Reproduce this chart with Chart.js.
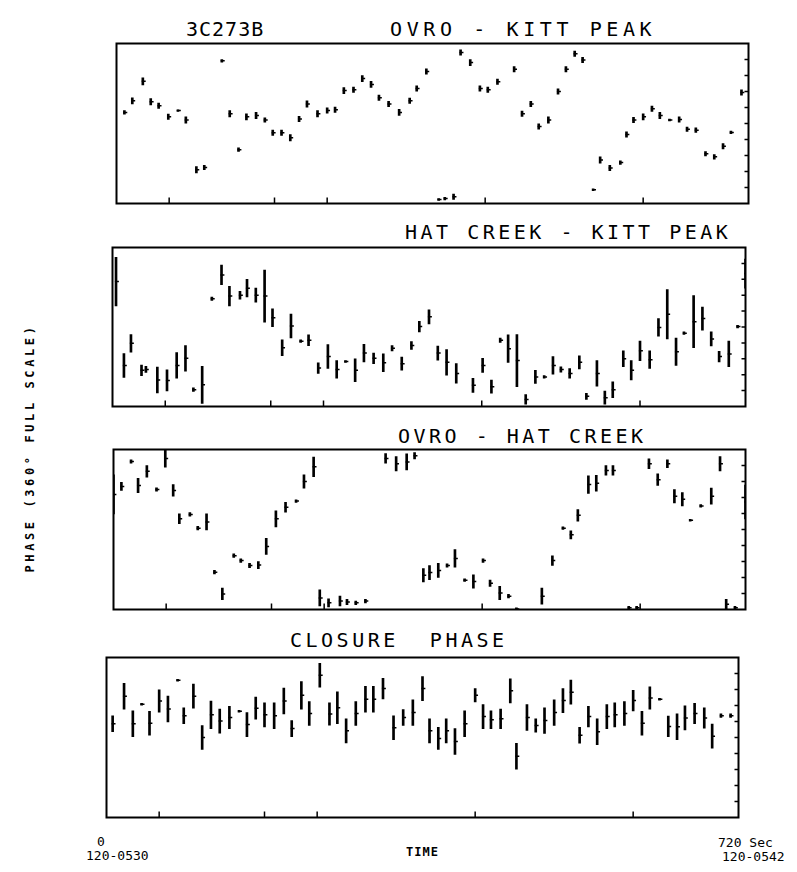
<!DOCTYPE html>
<html>
<head>
<meta charset="utf-8">
<script src="https://cdn.jsdelivr.net/npm/chart.js@4"></script>
<style>
  body { margin: 0; background: #fff; width: 797px; height: 872px; position: relative; overflow: hidden; }
  canvas { position: absolute; }
  .lbl { position: absolute; font-family: "DejaVu Sans Mono", monospace; color: #000; white-space: pre; line-height: 1; }
  .ttl { font-size: 20px; letter-spacing: 3.5px; }
  .small { font-size: 13px; }
  .bold { font-weight: bold; font-size: 12px; }
</style>
</head>
<body>
<div class="lbl ttl" style="left:186px;top:19px;letter-spacing:1px;">3C273B</div>
<div class="lbl ttl" style="left:390px;top:19px;letter-spacing:4.6px;">OVRO - KITT PEAK</div>
<div class="lbl ttl" style="left:405px;top:222px;">HAT CREEK - KITT PEAK</div>
<div class="lbl ttl" style="left:398px;top:426px;">OVRO - HAT CREEK</div>
<div class="lbl ttl" style="left:290px;top:630px;">CLOSURE  PHASE</div>
<div class="lbl bold" style="left:30px;top:448px;transform:translate(-50%,-50%) rotate(-90deg);letter-spacing:3.6px;">PHASE (360° FULL SCALE)</div>
<div class="lbl bold" style="left:406px;top:846px;letter-spacing:1px;">TIME</div>
<div class="lbl small" style="left:97px;top:835px;">0</div>
<div class="lbl small" style="left:86px;top:849px;">120-0530</div>
<div class="lbl small" style="left:718px;top:836px;">720 Sec</div>
<div class="lbl small" style="left:722px;top:850px;">120-0542</div>

<canvas id="c1" width="643" height="171"></canvas>
<canvas id="c2" width="644" height="170"></canvas>
<canvas id="c3" width="643" height="171"></canvas>
<canvas id="c4" width="643" height="171"></canvas>

<script>
// time in seconds from 120-0530, phase in degrees (0-360 full scale), err = half bar length
const t1 = [9,18,30,39,48,59,70,79,91,100,120,129,139,148,159,169,178,188,198,208,217,229,240,249,259,270,280,290,299,310,322,334,342,353,367,374,384,392,403,414,423,434,453,462,472,481,492,503,512,522,531,543,551,562,574,581,589,600,610,619,630,641,650,660,671,681,691,700,712];
const p1 = [205,231,275,229,220,195,209,188,76,81,321,202,121,195,198,188,159,159,148,190,224,202,209,211,254,256,281,268,238,224,205,231,259,297,9,11,15,340,317,259,256,274,302,202,224,173,188,252,302,337,323,31,98,80,92,155,188,195,213,198,188,189,167,165,112,105,129,160,250];
const e1 = [4,7,8,7,6,6,2,7,7,5,3,7,4,7,7,5,6,6,7,6,7,7,6,6,7,6,7,7,6,6,7,6,6,6,2,3,6,6,7,6,6,6,6,6,6,6,7,6,6,6,6,2,7,6,4,6,6,7,6,7,2,6,5,5,5,5,6,3,6];

const t2 = [4,13,21,33,38,51,62,73,83,92,102,113,124,133,145,153,163,173,182,193,203,214,223,234,245,255,265,276,286,297,308,318,329,340,349,360,370,380,391,410,421,431,441,450,460,470,481,491,501,510,520,531,539,551,560,569,581,590,600,611,621,631,641,650,661,671,681,690,701,711,720];
const p2 = [283,93,143,82,84,60,59,93,109,38,49,244,298,250,252,268,252,250,201,133,182,148,150,87,113,84,102,82,121,109,99,132,97,138,181,203,121,100,75,48,93,45,150,131,104,16,67,67,93,84,75,100,23,75,20,38,108,82,126,106,179,209,124,166,192,199,153,113,119,181,301];
const e2 = [55,27,20,12,7,29,24,29,29,4,42,4,22,22,9,20,16,59,20,18,27,3,12,12,27,20,2,26,20,12,20,6,15,9,12,16,16,29,22,16,16,15,5,31,59,11,15,3,20,6,11,15,7,29,15,18,18,22,22,20,20,56,31,3,59,26,16,12,29,3,33];

const t3 = [0,9,20,28,38,49,59,68,75,87,96,106,115,124,137,145,155,165,174,185,196,208,217,228,235,245,258,266,276,287,310,322,334,343,353,360,370,380,389,400,410,421,429,440,450,459,488,500,512,521,529,541,550,561,569,587,596,610,620,631,639,648,657,669,681,691,698,708,720];
const p3 = [259,277,333,279,311,270,340,268,204,214,183,197,84,35,121,110,99,100,142,204,230,244,288,321,26,15,19,17,15,19,340,328,332,346,77,83,88,99,115,66,63,110,59,37,30,1,30,110,183,168,212,281,284,313,313,4,4,328,292,328,255,248,201,233,255,328,12,4,242];
const e3 = [44,9,4,16,13,4,20,13,11,4,4,18,4,13,4,4,5,8,18,18,11,3,15,22,18,9,11,6,4,4,11,16,18,7,15,16,16,4,20,3,15,4,7,15,4,3,18,11,3,9,13,20,18,11,11,3,3,11,13,9,15,15,2,3,18,16,11,3,38];

const t4 = [7,20,30,40,49,60,70,81,88,99,109,119,129,140,151,160,170,180,191,202,211,222,231,243,254,263,273,284,295,304,315,327,338,349,360,368,378,387,397,408,420,429,438,449,460,467,479,489,499,510,520,529,539,549,559,570,579,590,600,610,619,630,640,650,659,670,681,690,700,711];
const p4 = [211,273,211,255,212,262,244,309,229,273,180,231,217,225,239,209,246,231,229,262,200,275,234,320,233,247,195,234,266,266,290,202,225,236,290,195,178,195,171,211,275,227,220,222,285,138,225,207,218,236,263,282,185,227,193,227,231,234,263,212,269,266,205,204,224,234,224,183,229,229];
const e4 = [18,29,29,2,27,25,29,2,18,27,27,31,27,25,2,27,25,27,29,29,18,31,27,27,25,36,27,27,29,29,23,27,18,29,27,27,25,27,29,29,15,27,20,22,27,29,29,15,29,29,27,27,18,23,29,27,27,27,23,27,25,2,23,29,27,23,23,27,4,4];

// tick marks
const bottomTicks = [60, 180, 240, 420, 600];
const rightTicks = [36, 72, 108, 144, 180, 216, 252, 288, 324];

const panels = [
  { id: 'c1', t: t1, p: p1, e: e1, box: { l: 114, t: 41, r: 751, b: 206 } },
  { id: 'c2', t: t2, p: p2, e: e2, box: { l: 110, t: 245, r: 748, b: 409 } },
  { id: 'c3', t: t3, p: p3, e: e3, box: { l: 111, t: 447, r: 748, b: 612 } },
  { id: 'c4', t: t4, p: p4, e: e4, box: { l: 104, t: 655, r: 741, b: 820 } }
];

const PAD = 3;

const framePlugin = {
  id: 'frame',
  afterDatasetsDraw(chart) {
    const { ctx, chartArea, scales } = chart;
    ctx.save();
    ctx.strokeStyle = '#000';
    ctx.lineWidth = 2;
    ctx.strokeRect(chartArea.left, chartArea.top, chartArea.right - chartArea.left, chartArea.bottom - chartArea.top);
    ctx.lineWidth = 1.5;
    ctx.beginPath();
    bottomTicks.forEach((v) => {
      const x = scales.x.getPixelForValue(v);
      ctx.moveTo(x, chartArea.bottom);
      ctx.lineTo(x, chartArea.bottom - 6);
    });
    rightTicks.forEach((v) => {
      const y = scales.y.getPixelForValue(v);
      ctx.moveTo(chartArea.right, y);
      ctx.lineTo(chartArea.right - 4, y);
    });
    ctx.stroke();
    ctx.restore();
  }
};

panels.forEach((panel) => {
  const canvas = document.getElementById(panel.id);
  const b = panel.box;
  canvas.width = b.r - b.l + PAD * 2;
  canvas.height = b.b - b.t + PAD * 2;
  canvas.style.left = (b.l - PAD) + 'px';
  canvas.style.top = (b.t - PAD) + 'px';

  const bars = panel.t.map((t, i) => ({ x: t, y: [panel.p[i] - panel.e[i], panel.p[i] + panel.e[i]] }));
  const centers = panel.t.map((t, i) => ({ x: t + 1, y: panel.p[i] }));

  new Chart(canvas, {
    type: 'bar',
    data: {
      datasets: [
        {
          type: 'bar',
          data: bars,
          backgroundColor: '#000',
          borderWidth: 0,
          barThickness: 2
        },
        {
          type: 'scatter',
          data: centers,
          pointStyle: 'line',
          radius: 2,
          borderColor: '#000',
          borderWidth: 1.5,
          showLine: false
        }
      ]
    },
    options: {
      responsive: false,
      animation: false,
      devicePixelRatio: 1,
      layout: { padding: PAD },
      plugins: { legend: { display: false }, tooltip: { enabled: false } },
      scales: {
        x: { type: 'linear', min: 0, max: 720, offset: false, display: false },
        y: { type: 'linear', min: 0, max: 360, display: false }
      }
    },
    plugins: [framePlugin]
  });
});
</script>
</body>
</html>
